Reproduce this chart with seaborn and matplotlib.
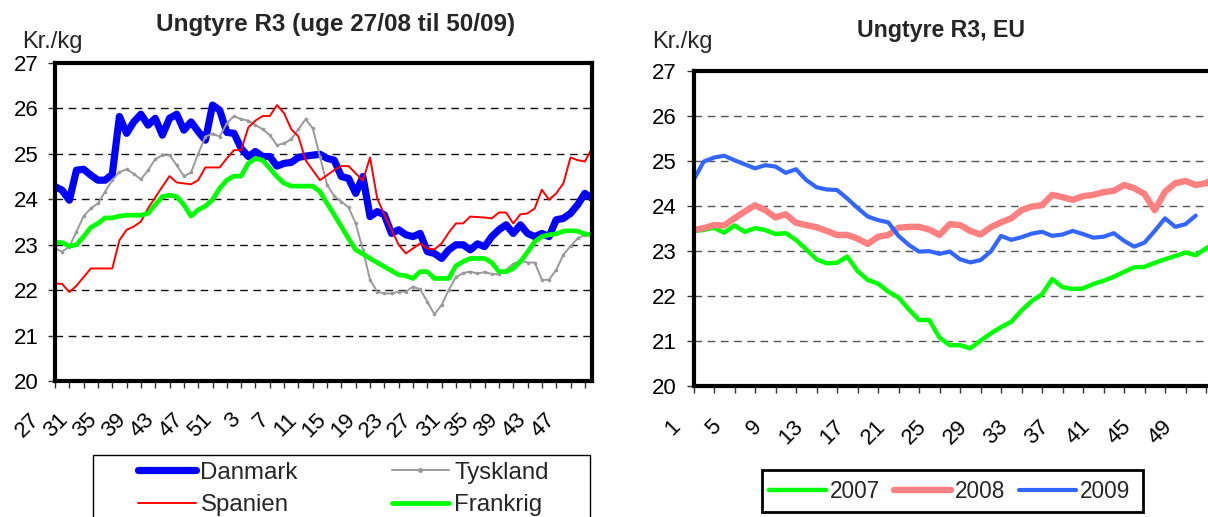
import matplotlib
matplotlib.use("Agg")
import matplotlib.pyplot as plt
import seaborn as sns
import pandas as pd
from matplotlib.transforms import ScaledTranslation
from matplotlib.patches import Rectangle
from matplotlib.lines import Line2D

# ---------------- data: left chart (week 27/08 .. 50/09) ----------------
weeks_left = list(range(27, 53)) + list(range(1, 51))
danmark = [24.28, 24.2, 23.98, 24.64, 24.66, 24.53, 24.42, 24.42, 24.55, 25.82,
           25.45, 25.7, 25.87, 25.63, 25.78, 25.41, 25.78, 25.87, 25.52, 25.7,
           25.49, 25.3, 26.07, 25.96, 25.47, 25.45, 25.12, 24.94, 25.05, 24.94,
           24.94, 24.73, 24.79, 24.81, 24.92, 24.95, 24.97, 24.99, 24.9, 24.86,
           24.5, 24.46, 24.13, 24.5, 23.62, 23.73, 23.66, 23.25, 23.33, 23.22,
           23.18, 23.25, 22.85, 22.81, 22.7, 22.89, 23.0, 23.0, 22.89, 23.02,
           22.96, 23.18, 23.33, 23.44, 23.25, 23.44, 23.25, 23.18, 23.25, 23.18,
           23.55, 23.58, 23.69, 23.88, 24.13, 24.02]
tyskland = [22.92, 22.85, 22.96, 23.29, 23.63, 23.8, 23.91, 24.17, 24.42, 24.6,
            24.66, 24.56, 24.44, 24.64, 24.88, 24.97, 24.97, 24.75, 24.51, 24.59,
            25.0, 25.38, 25.44, 25.38, 25.67, 25.83, 25.76, 25.73, 25.63, 25.54,
            25.41, 25.19, 25.23, 25.32, 25.54, 25.76, 25.56, 24.94, 24.32, 24.07,
            23.95, 23.82, 23.47, 22.89, 22.23, 21.97, 21.93, 21.93, 21.97, 21.97,
            22.08, 22.02, 21.75, 21.47, 21.68, 22.01, 22.29, 22.38, 22.41, 22.37,
            22.4, 22.36, 22.35, 22.45, 22.58, 22.65, 22.61, 22.61, 22.23, 22.23,
            22.45, 22.78, 22.97, 23.14, 23.22, 23.22]
spanien = [22.15, 22.14, 21.96, 22.1, 22.29, 22.48, 22.48, 22.48, 22.48, 23.1,
           23.33, 23.4, 23.51, 23.8, 24.04, 24.28, 24.51, 24.37, 24.35, 24.33,
           24.42, 24.7, 24.7, 24.7, 24.9, 25.08, 25.08, 25.58, 25.73, 25.83,
           25.83, 26.07, 25.89, 25.54, 25.38, 24.86, 24.64, 24.42, 24.53, 24.64,
           24.73, 24.73, 24.57, 24.41, 24.92, 24.02, 23.66, 23.33, 23.0, 22.81,
           22.92, 23.03, 22.92, 22.9, 23.03, 23.27, 23.47, 23.47, 23.62, 23.61,
           23.6, 23.58, 23.71, 23.71, 23.47, 23.67, 23.69, 23.8, 24.21, 23.99,
           24.13, 24.35, 24.92, 24.86, 24.83, 25.12]
frankrig = [23.05, 23.05, 22.97, 23.0, 23.18, 23.38, 23.47, 23.59, 23.59, 23.63,
            23.65, 23.65, 23.65, 23.69, 23.88, 24.06, 24.09, 24.06, 23.88, 23.63,
            23.77, 23.85, 23.99, 24.24, 24.42, 24.51, 24.51, 24.79, 24.9, 24.86,
            24.68, 24.5, 24.35, 24.29, 24.29, 24.29, 24.29, 24.17, 23.91, 23.66,
            23.4, 23.14, 22.89, 22.8, 22.7, 22.61, 22.52, 22.43, 22.34, 22.32,
            22.26, 22.41, 22.41, 22.26, 22.26, 22.26, 22.54, 22.63, 22.7, 22.7,
            22.7, 22.61, 22.41, 22.41, 22.48, 22.63, 22.84, 23.07, 23.18, 23.22,
            23.24, 23.3, 23.31, 23.3, 23.24, 23.22]

# ---------------- data: right chart (EU, week 1..52) ----------------
weeks_right = list(range(1, 53))
eu_2007 = [23.44, 23.46, 23.51, 23.4, 23.56, 23.42, 23.5, 23.46, 23.37, 23.39,
           23.24, 23.03, 22.81, 22.72, 22.73, 22.87, 22.55, 22.35, 22.27, 22.09,
           21.96, 21.7, 21.46, 21.46, 21.07, 20.9, 20.9, 20.83, 21.0, 21.16,
           21.3, 21.42, 21.67, 21.88, 22.03, 22.37, 22.19, 22.15, 22.16, 22.26,
           22.33, 22.42, 22.53, 22.63, 22.64, 22.73, 22.81, 22.88, 22.96, 22.9,
           23.05, 23.2]
eu_2008 = [23.46, 23.5, 23.57, 23.56, 23.72, 23.87, 24.01, 23.9, 23.74, 23.81,
           23.62, 23.57, 23.52, 23.44, 23.35, 23.35, 23.27, 23.15, 23.31, 23.35,
           23.51, 23.53, 23.53, 23.47, 23.35, 23.59, 23.57, 23.44, 23.36, 23.52,
           23.63, 23.72, 23.9, 23.98, 24.01, 24.24, 24.19, 24.13, 24.21, 24.24,
           24.3, 24.33, 24.46, 24.39, 24.26, 23.9, 24.31, 24.5, 24.55, 24.46,
           24.5, 24.64]
eu_2009 = [24.57, 24.98, 25.07, 25.11, 25.01, 24.92, 24.83, 24.9, 24.87, 24.73,
           24.81, 24.57, 24.41, 24.36, 24.35, 24.16, 23.95, 23.76, 23.68, 23.63,
           23.33, 23.13, 22.98, 22.99, 22.93, 22.98, 22.81, 22.74, 22.79, 22.98,
           23.33, 23.24, 23.3, 23.38, 23.42, 23.33, 23.36, 23.44, 23.37, 23.29,
           23.31, 23.39, 23.22, 23.09, 23.18, 23.44, 23.72, 23.53, 23.59, 23.78]

left_title = "Ungtyre R3 (uge 27/08 til 50/09)"
right_title = "Ungtyre R3, EU"
unit = "Kr./kg"
y_ticks = [20, 21, 22, 23, 24, 25, 26, 27]

# ---------------- style ----------------
sns.set_theme(style="white")
plt.rcParams["font.family"] = ["Liberation Sans", "DejaVu Sans"]

W, H = 1208, 517
fig = plt.figure(figsize=(W / 100, H / 100), dpi=100)
fig.patch.set_facecolor("white")


def fx(px):
    return px / W


def fy(py):
    return 1 - py / H


ax1 = fig.add_axes([fx(55), fy(381.3), fx(592) - fx(55), (381.3 - 62.8) / H])
ax2 = fig.add_axes([fx(693.5), fy(385.7), 51 * 10.25 / W, (385.7 - 70.7) / H])

idx = list(range(len(weeks_left)))
df_left = pd.DataFrame({"i": idx, "Danmark": danmark, "Tyskland": tyskland,
                        "Spanien": spanien, "Frankrig": frankrig})
df_right = pd.DataFrame({"week": weeks_right, "2007": eu_2007, "2008": eu_2008,
                         "2009": eu_2009 + [None] * (len(weeks_right) - len(eu_2009))})

left_styles = {
    "Danmark": dict(color="#0000FF", linewidth=5.2),
    "Tyskland": dict(color="#9A9A9A", linewidth=1.4, marker="o", markersize=2.6,
                     markeredgewidth=0),
    "Spanien": dict(color="#FF0000", linewidth=1.4),
    "Frankrig": dict(color="#00FF00", linewidth=3.4),
}
for name, st in left_styles.items():
    sns.lineplot(data=df_left, x="i", y=name, ax=ax1, legend=False,
                 solid_joinstyle="round", solid_capstyle="round", **st)

right_styles = {
    "2007": dict(color="#00FF00", linewidth=3.2),
    "2008": dict(color="#FF8080", linewidth=4.6),
    "2009": dict(color="#3366FF", linewidth=3.0),
}
for name, st in right_styles.items():
    sub = df_right[["week", name]].dropna()
    sns.lineplot(data=sub, x="week", y=name, ax=ax2, legend=False,
                 solid_joinstyle="round", solid_capstyle="round", **st)

# ---------------- axes formatting ----------------
for ax, gcol in ((ax1, "#111111"), (ax2, "#555555")):
    ax.set_facecolor("white")
    ax.set_ylim(20, 27)
    ax.set_yticks(y_ticks)
    ax.set_yticklabels([str(v) for v in y_ticks])
    ax.set_xlabel("")
    ax.set_ylabel("")
    for sp in ax.spines.values():
        sp.set_visible(True)
        sp.set_color("black")
        sp.set_linewidth(3.0)
    for v in y_ticks[1:-1]:
        ax.axhline(v, color=gcol, linewidth=1.0, linestyle=(0, (5.5, 4.0)), zorder=0.5)
    ax.tick_params(axis="both", which="both", direction="out", length=5, width=1,
                   color="#333333", bottom=True, left=True, top=False, right=False,
                   labelsize=16, labelcolor="black")
    ax.tick_params(axis="y", pad=7)

ax1.set_xlim(0, len(weeks_left) - 1)
xt1 = list(range(0, len(weeks_left), 2))
ax1.set_xticks(xt1)
ax1.set_xticklabels([str(weeks_left[i]) if i % 4 == 0 else "" for i in xt1])
ax1.tick_params(axis="x", pad=15)

ax2.set_xlim(1, 52)
xt2 = list(range(1, 53, 2))
ax2.set_xticks(xt2)
ax2.set_xticklabels([str(w) if (w - 1) % 4 == 0 else "" for w in xt2])
ax2.tick_params(axis="x", pad=17)

for ax, dx in ((ax1, -11), (ax2, -9)):
    off = ScaledTranslation(dx / 100, 0, fig.dpi_scale_trans)
    for lab in ax.get_xticklabels():
        lab.set_rotation(45)
        lab.set_ha("right")
        lab.set_va("top")
        lab.set_transform(lab.get_transform() + off)

# ---------------- texts ----------------
fig.text(fx(336), fy(31), left_title, ha="center", va="baseline",
         fontsize=17.5, fontweight="bold")
fig.text(fx(941), fy(37), right_title, ha="center", va="baseline",
         fontsize=16.7, fontweight="bold")
fig.text(fx(22), fy(48), unit, ha="left", va="baseline", fontsize=17)
fig.text(fx(652), fy(48), unit, ha="left", va="baseline", fontsize=17)

# ---------------- legends ----------------
def handle(st):
    return Line2D([0, 1], [0, 0], color=st["color"], linewidth=st["linewidth"],
                  solid_capstyle="round", marker=st.get("marker"),
                  markersize=st.get("markersize", 0) + 1, markeredgewidth=0)

order_left = ["Danmark", "Spanien", "Tyskland", "Frankrig"]
leg1 = fig.legend([handle(left_styles[n]) for n in order_left], order_left,
                  loc="center left", bbox_to_anchor=(fx(138), fy(489)),
                  ncol=2, frameon=False, fontsize=17.3, borderpad=0,
                  borderaxespad=0, handlelength=2.4, handletextpad=0.2,
                  columnspacing=3.9, labelspacing=0.45, numpoints=1)
fig.add_artist(Rectangle((fx(93), fy(540)), fx(590) - fx(93), (540 - 455) / H,
                         transform=fig.transFigure, facecolor="none",
                         edgecolor="black", linewidth=1.0, zorder=0))

order_right = ["2007", "2008", "2009"]
leg2 = fig.legend([handle(right_styles[n]) for n in order_right], order_right,
                  loc="center left", bbox_to_anchor=(fx(769), fy(491)),
                  ncol=3, frameon=False, fontsize=16.3, borderpad=0,
                  borderaxespad=0, handlelength=2.5, handletextpad=0.2,
                  columnspacing=0.6)
fig.add_artist(Rectangle((fx(762), fy(512)), fx(1143) - fx(762), (512 - 470) / H,
                         transform=fig.transFigure, facecolor="none",
                         edgecolor="black", linewidth=2.0, zorder=0))

fig.savefig("out.png", dpi=100)
